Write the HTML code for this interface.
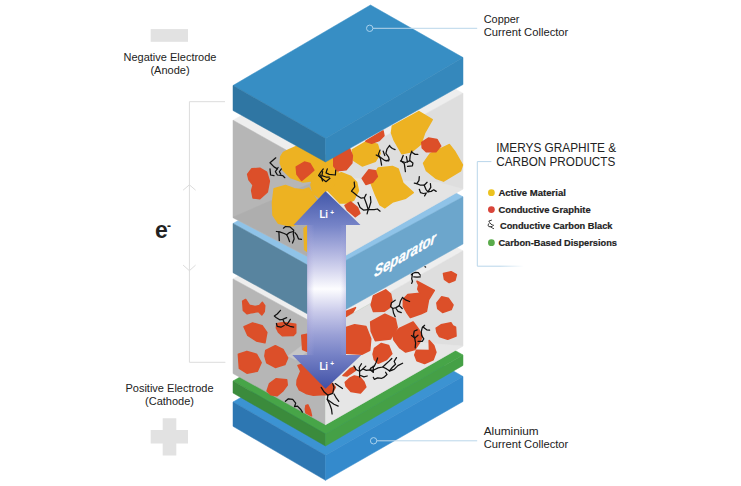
<!DOCTYPE html>
<html><head><meta charset="utf-8"><title>Li-ion battery diagram</title>
<style>
html,body{margin:0;padding:0;background:#fff;}
body{width:741px;height:486px;overflow:hidden;position:relative;font-family:"Liberation Sans",sans-serif;}
svg{position:absolute;left:0;top:0;display:block}
text{font-family:"Liberation Sans",sans-serif;}
</style></head><body>
<svg width="741" height="486" viewBox="0 0 741 486">
<defs>
<linearGradient id="agv" gradientUnits="userSpaceOnUse" x1="0" y1="191" x2="0" y2="389">
<stop offset="0" stop-color="#4257a9"/>
<stop offset="0.172" stop-color="#7583c7"/>
<stop offset="0.293" stop-color="#a9aedd"/>
<stop offset="0.394" stop-color="#d3d4ee"/>
<stop offset="0.495" stop-color="#fdfdff"/>
<stop offset="0.611" stop-color="#c9caea"/>
<stop offset="0.727" stop-color="#9aa0d6"/>
<stop offset="0.828" stop-color="#7682c6"/>
<stop offset="1" stop-color="#4050a6"/>
</linearGradient>
<linearGradient id="agh" gradientUnits="userSpaceOnUse" x1="307.2" y1="0" x2="346" y2="0">
<stop offset="0" stop-color="#9a94d0" stop-opacity="0.4"/>
<stop offset="0.18" stop-color="#b0b0e0" stop-opacity="0"/>
<stop offset="0.85" stop-color="#b0b0e0" stop-opacity="0"/>
<stop offset="1" stop-color="#8f96d0" stop-opacity="0.3"/>
</linearGradient>
<linearGradient id="fade" gradientUnits="userSpaceOnUse" x1="500" y1="0" x2="524" y2="0">
<stop offset="0" stop-color="#b9d6ea"/><stop offset="1" stop-color="#b9d6ea" stop-opacity="0"/>
</linearGradient>
</defs>
<rect width="741" height="486" fill="#fff"/>
<rect x="150.7" y="29.1" width="37.3" height="12.7" fill="#e2e2e2"/>
<polygon points="162.7,418.3 176.3,418.3 176.3,430 188,430 188,443.5 176.3,443.5 176.3,455.6 162.7,455.6 162.7,443.5 150.7,443.5 150.7,430 162.7,430" fill="#e2e2e2"/>
<polyline points="225,101.7 189.4,101.7 189.4,362.3 225.4,362.3" fill="none" stroke="#dcdcdc" stroke-width="1"/>
<polyline points="183.1,190.2 189.4,184.8 195.6,190.2" fill="none" stroke="#dcdcdc" stroke-width="1"/>
<polyline points="183.1,265.1 189.4,270.7 195.6,265.1" fill="none" stroke="#dcdcdc" stroke-width="1"/>
<text x="170" y="60.7" font-size="11" text-anchor="middle" font-weight="normal" fill="#222" >Negative Electrode</text>
<text x="170" y="74.0" font-size="11" text-anchor="middle" font-weight="normal" fill="#222" >(Anode)</text>
<text x="169.5" y="392" font-size="11" text-anchor="middle" font-weight="normal" fill="#222" >Positive Electrode</text>
<text x="169.5" y="404.7" font-size="11" text-anchor="middle" font-weight="normal" fill="#222" >(Cathode)</text>
<text x="155" y="238" font-size="23" text-anchor="start" font-weight="bold" fill="#222" fill="#111">e</text>
<text x="167" y="230.3" font-size="12" text-anchor="start" font-weight="bold" fill="#222" >-</text>
<text x="483.7" y="22.7" font-size="11" text-anchor="start" font-weight="normal" fill="#222" textLength="35.8" lengthAdjust="spacingAndGlyphs">Copper</text>
<text x="483.7" y="35.6" font-size="11" text-anchor="start" font-weight="normal" fill="#222" textLength="84.6" lengthAdjust="spacingAndGlyphs">Current Collector</text>
<text x="483.7" y="435.1" font-size="11" text-anchor="start" font-weight="normal" fill="#222" textLength="55" lengthAdjust="spacingAndGlyphs">Aluminium</text>
<text x="483.7" y="447.6" font-size="11" text-anchor="start" font-weight="normal" fill="#222" textLength="84.6" lengthAdjust="spacingAndGlyphs">Current Collector</text>
<text x="496.2" y="151.9" font-size="12.2" text-anchor="start" font-weight="normal" fill="#222" textLength="120" lengthAdjust="spacingAndGlyphs">IMERYS GRAPHITE &amp;</text>
<text x="496.2" y="166.4" font-size="12.2" text-anchor="start" font-weight="normal" fill="#222" textLength="119.1" lengthAdjust="spacingAndGlyphs">CARBON PRODUCTS</text>
<text x="498.4" y="195.9" font-size="9.9" text-anchor="start" font-weight="bold" fill="#222" stroke="#222" stroke-width="0.2" textLength="67.5" lengthAdjust="spacingAndGlyphs">Active Material</text>
<text x="498.4" y="212.8" font-size="9.9" text-anchor="start" font-weight="bold" fill="#222" stroke="#222" stroke-width="0.2" textLength="92.3" lengthAdjust="spacingAndGlyphs">Conductive Graphite</text>
<text x="500.0" y="228.7" font-size="9.9" text-anchor="start" font-weight="bold" fill="#222" stroke="#222" stroke-width="0.2" textLength="112.5" lengthAdjust="spacingAndGlyphs">Conductive Carbon Black</text>
<text x="498.4" y="245.7" font-size="9.9" text-anchor="start" font-weight="bold" fill="#222" stroke="#222" stroke-width="0.2" textLength="118.6" lengthAdjust="spacingAndGlyphs">Carbon-Based Dispersions</text>
<circle cx="491.4" cy="192.7" r="3.4" fill="#ecc21f"/>
<circle cx="491.4" cy="209.6" r="3.4" fill="#d9453a"/>
<circle cx="491.4" cy="242.7" r="3.4" fill="#5aab4b"/>
<polyline points="491.4,161.6 477.3,161.6 477.3,266.2 500,266.2" fill="none" stroke="#b9d6ea" stroke-width="1"/>
<line x1="500" y1="266.2" x2="524" y2="266.2" stroke="url(#fade)" stroke-width="1"/>
<g fill="none" stroke="#222" stroke-width="0.9" stroke-linecap="round" stroke-linejoin="round"><polyline points="491.5,220.2 488.8,221 489.7,222.6 490.9,224.1 492.3,224.9 493.6,225.3"/><polyline points="488.8,223.7 488,225.1 488.8,226.6 490.7,226.8 492.3,226.3"/><polyline points="490.7,226.8 492.3,228 493.6,228.6"/></g>
<polygon points="233.0,402.0 325.5,455.3 325.5,455.3 463.0,376.5 370.5,323.2" fill="#3c93d2" stroke="#3c93d2" stroke-width="0.5" stroke-linejoin="round" />
<polygon points="233.0,402.0 325.5,455.3 325.5,480.3 233.0,426.3" fill="#2d77b2" stroke="#2d77b2" stroke-width="0.5" stroke-linejoin="round" />
<polygon points="325.5,455.3 463.0,376.5 463.0,401.5 325.5,480.3" fill="#348acc" stroke="#348acc" stroke-width="0.5" stroke-linejoin="round" />
<polygon points="233.0,381.0 325.5,434.0 325.5,434.0 463.0,355.0 370.5,302.0" fill="#47a548" stroke="#47a548" stroke-width="0.5" stroke-linejoin="round" />
<polygon points="233.0,381.0 325.5,434.0 325.5,446.0 233.0,393.0" fill="#3b8b3c" stroke="#3b8b3c" stroke-width="0.5" stroke-linejoin="round" />
<polygon points="325.5,434.0 463.0,355.0 463.0,365.4 325.5,446.0" fill="#45a046" stroke="#45a046" stroke-width="0.5" stroke-linejoin="round" />
<polygon points="233.0,278.9 325.5,329.5 325.5,328.9 463.0,250.8 370.5,200.5" fill="#eeeeee" stroke="#eeeeee" stroke-width="0.5" stroke-linejoin="round" />
<polygon points="233.0,278.9 325.5,329.5 325.5,424.7 233.0,373.5" fill="#b6b6b6" stroke="#b6b6b6" stroke-width="0.5" stroke-linejoin="round" />
<polygon points="325.5,328.9 463.0,250.8 463.0,346.0 325.5,424.7" fill="#dedede" stroke="#dedede" stroke-width="0.5" stroke-linejoin="round" />
<polygon points="288.0,356.0 304.0,344.0 307.0,352.0 296.0,360.0" fill="#cdcdcd" stroke="#cdcdcd" stroke-width="0.5" stroke-linejoin="round" opacity="0.7"/>
<polygon points="325.5,335.0 463.0,346.0 325.5,424.7" fill="#ececec" stroke="#ececec" stroke-width="0.5" stroke-linejoin="round" opacity="0.6"/>
<polygon points="242.7,301.3 245.6,299.5 249.5,305.4 255.1,306.6 259.7,305.4 262.4,302.4 264.7,305.8 264.2,311.5 261.9,314.9 258.5,311.5 251.8,312.6 247.2,313.8 243.4,310.4" fill="#dc4f29" stroke="#dc4f29" stroke-width="1.6" stroke-linejoin="round"/>
<polygon points="244.1,326.8 252.6,323.0 262.1,325.8 266.8,332.4 264.9,342.8 256.4,340.9 247.9,335.3" fill="#dc4f29" stroke="#dc4f29" stroke-width="1.6" stroke-linejoin="round"/>
<polygon points="276.8,323.9 283.4,322.6 295.7,324.3 295.7,332.9 293.3,335.4 282.6,335.8 278.5,332.1 276.4,328.0" fill="#dc4f29" stroke="#dc4f29" stroke-width="1.6" stroke-linejoin="round"/>
<polygon points="238.4,354.2 246.9,351.4 256.4,354.2 261.1,362.7 257.3,371.2 246.9,373.1 239.4,368.4" fill="#dc4f29" stroke="#dc4f29" stroke-width="1.6" stroke-linejoin="round"/>
<polygon points="265.8,350.4 275.3,345.7 282.9,349.5 287.6,358.0 284.8,364.6 275.3,367.4 266.8,362.7 264.9,356.1" fill="#dc4f29" stroke="#dc4f29" stroke-width="1.6" stroke-linejoin="round"/>
<polygon points="267.1,390.9 269.6,383.6 276.0,378.8 286.6,379.7 287.2,385.0 282.9,390.9 276.9,395.8 270.8,394.6" fill="#dc4f29" stroke="#dc4f29" stroke-width="1.6" stroke-linejoin="round"/>
<polygon points="298.0,365.5 300.8,371.2 297.2,380.0 296.9,384.9 299.3,389.7 306.0,393.4 313.3,395.2 321.2,394.6 327.9,394.6 332.7,392.1 335.2,387.3 333.9,385.4 320.0,370.0 310.0,362.0" fill="#dc4f29" stroke="#dc4f29" stroke-width="1.6" stroke-linejoin="round"/>
<polygon points="306.0,405.5 307.8,404.9 310.3,410.4 311.5,415.8 306.0,412.8 305.4,409.2" fill="#dc4f29" stroke="#dc4f29" stroke-width="1.6" stroke-linejoin="round"/>
<polygon points="345.3,382.3 349.7,378.3 354.4,376.0 360.1,377.4 363.9,382.1 365.8,387.0 360.4,393.0 351.0,391.5 346.1,386.0" fill="#dc4f29" stroke="#dc4f29" stroke-width="1.6" stroke-linejoin="round"/>
<polygon points="301.8,335.3 307.1,334.3 307.1,351.3 302.7,349.5" fill="#dc4f29" stroke="#dc4f29" stroke-width="1.6" stroke-linejoin="round"/>
<polygon points="443.5,273.6 451.1,271.8 456.4,274.6 454.9,280.3 449.2,282.5 444.5,279.3" fill="#dc4f29" stroke="#dc4f29" stroke-width="1.6" stroke-linejoin="round"/>
<polygon points="417.0,281.3 434.3,290.4 428.5,299.8 426.4,311.3 421.1,313.8 410.4,317.5 406.7,312.2 403.4,306.4 403.4,299.4 407.9,294.5 419.9,293.2 417.8,289.1 418.7,285.0" fill="#dc4f29" stroke="#dc4f29" stroke-width="1.6" stroke-linejoin="round"/>
<polygon points="373.5,296.0 385.7,289.9 390.6,294.1 391.9,300.6 390.2,307.2 384.1,311.3 373.5,311.5 371.2,304.9" fill="#dc4f29" stroke="#dc4f29" stroke-width="1.6" stroke-linejoin="round"/>
<polygon points="436.9,303.0 441.6,296.9 448.2,298.2 453.0,304.9 451.1,309.6 442.6,312.4 437.8,308.6" fill="#dc4f29" stroke="#dc4f29" stroke-width="1.6" stroke-linejoin="round"/>
<polygon points="370.7,321.9 384.9,314.3 395.3,319.1 397.2,327.6 390.5,338.9 375.4,340.8 371.2,331.3" fill="#dc4f29" stroke="#dc4f29" stroke-width="1.6" stroke-linejoin="round"/>
<polygon points="393.0,334.0 399.9,328.2 413.1,322.0 418.9,329.8 422.2,336.4 419.7,342.2 414.8,349.6 405.7,352.0 399.9,347.9 394.0,340.0" fill="#dc4f29" stroke="#dc4f29" stroke-width="1.6" stroke-linejoin="round"/>
<polygon points="436.2,328.2 441.1,324.9 451.0,322.8 452.6,325.7 455.5,327.3 456.0,336.0 447.7,339.3 439.4,336.4 437.0,332.3" fill="#dc4f29" stroke="#dc4f29" stroke-width="1.6" stroke-linejoin="round"/>
<polygon points="346.1,327.6 354.6,324.7 365.9,326.6 370.7,338.9 369.7,350.3 362.2,354.1 346.1,353.1" fill="#dc4f29" stroke="#dc4f29" stroke-width="1.6" stroke-linejoin="round"/>
<polygon points="346.1,311.5 355.5,307.7 352.7,312.4 346.1,316.2" fill="#dc4f29" stroke="#dc4f29" stroke-width="1.6" stroke-linejoin="round"/>
<polygon points="374.5,348.4 381.1,343.6 388.6,345.5 391.8,353.8 386.6,359.4 378.1,363.2 374.3,359.4 373.1,354.1" fill="#dc4f29" stroke="#dc4f29" stroke-width="1.6" stroke-linejoin="round"/>
<polygon points="416.4,350.4 429.5,350.5 429.2,340.5 433.7,345.5 435.9,352.2 433.1,359.7 424.6,363.5 417.0,360.7 414.8,355.0" fill="#dc4f29" stroke="#dc4f29" stroke-width="1.6" stroke-linejoin="round"/>
<polygon points="343.0,375.5 350.7,368.4 354.4,367.0 355.4,370.3 350.7,373.6 346.9,376.0" fill="#dc4f29" stroke="#dc4f29" stroke-width="1.6" stroke-linejoin="round"/>
<polyline points="280.5,310.3 277.2,314.0 274.3,316.0 276.4,317.7 279.7,319.8 282.6,319.3 286.7,317.7" fill="none" stroke="#111" stroke-width="1.25" stroke-linecap="round" stroke-linejoin="round"/>
<polyline points="283.0,319.8 284.2,322.6 286.3,324.7" fill="none" stroke="#111" stroke-width="1.25" stroke-linecap="round" stroke-linejoin="round"/>
<polyline points="290.4,319.3 288.3,322.6 286.3,324.7 290.0,326.3 293.7,327.2" fill="none" stroke="#111" stroke-width="1.25" stroke-linecap="round" stroke-linejoin="round"/>
<polyline points="276.4,323.5 277.2,326.3 280.9,327.2 284.2,325.5" fill="none" stroke="#111" stroke-width="1.25" stroke-linecap="round" stroke-linejoin="round"/>
<polyline points="411.3,274.8 412.5,273.5 415.4,272.3 418.3,272.7 420.3,275.2" fill="none" stroke="#111" stroke-width="1.25" stroke-linecap="round" stroke-linejoin="round"/>
<polyline points="412.5,273.9 411.7,278.9 412.5,281.3 411.7,283.4" fill="none" stroke="#111" stroke-width="1.25" stroke-linecap="round" stroke-linejoin="round"/>
<polyline points="413.7,276.8 417.0,277.2 420.3,276.8" fill="none" stroke="#111" stroke-width="1.25" stroke-linecap="round" stroke-linejoin="round"/>
<polyline points="425.0,266.7 425.6,267.1" fill="none" stroke="#111" stroke-width="1.25" stroke-linecap="round" stroke-linejoin="round"/>
<polyline points="402.6,297.3 400.5,301.0 399.3,305.6 396.0,307.6 392.7,308.5 390.6,306.4 391.5,302.7 395.2,300.2" fill="none" stroke="#111" stroke-width="1.25" stroke-linecap="round" stroke-linejoin="round"/>
<polyline points="402.6,297.8 405.5,299.8 409.6,301.5" fill="none" stroke="#111" stroke-width="1.25" stroke-linecap="round" stroke-linejoin="round"/>
<polyline points="392.7,308.5 393.5,313.0 395.2,316.7" fill="none" stroke="#111" stroke-width="1.25" stroke-linecap="round" stroke-linejoin="round"/>
<polyline points="396.0,308.5 398.0,311.3 401.3,312.6" fill="none" stroke="#111" stroke-width="1.25" stroke-linecap="round" stroke-linejoin="round"/>
<polyline points="399.3,305.6 402.2,308.5" fill="none" stroke="#111" stroke-width="1.25" stroke-linecap="round" stroke-linejoin="round"/>
<polyline points="424.6,325.3 422.2,327.8 421.3,331.5 421.7,335.6 423.8,338.9 422.2,341.3 418.0,341.3" fill="none" stroke="#111" stroke-width="1.25" stroke-linecap="round" stroke-linejoin="round"/>
<polyline points="423.0,326.9 426.7,329.8 429.6,330.2" fill="none" stroke="#111" stroke-width="1.25" stroke-linecap="round" stroke-linejoin="round"/>
<polyline points="417.2,329.8 414.3,331.0 413.5,334.8 414.8,338.9 415.6,343.0 415.2,347.9" fill="none" stroke="#111" stroke-width="1.25" stroke-linecap="round" stroke-linejoin="round"/>
<polyline points="411.5,335.6 414.8,338.0 418.0,335.2" fill="none" stroke="#111" stroke-width="1.25" stroke-linecap="round" stroke-linejoin="round"/>
<polyline points="354.0,366.1 356.3,369.8 359.6,371.3 362.9,368.9 365.8,366.1" fill="none" stroke="#111" stroke-width="1.25" stroke-linecap="round" stroke-linejoin="round"/>
<polyline points="361.5,363.7 359.2,367.5 359.6,371.3 359.6,376.9" fill="none" stroke="#111" stroke-width="1.25" stroke-linecap="round" stroke-linejoin="round"/>
<polyline points="360.6,375.5 363.9,376.9 367.2,376.0" fill="none" stroke="#111" stroke-width="1.25" stroke-linecap="round" stroke-linejoin="round"/>
<polyline points="362.9,368.9 366.3,370.3 370.0,369.8 373.3,370.3" fill="none" stroke="#111" stroke-width="1.25" stroke-linecap="round" stroke-linejoin="round"/>
<polyline points="377.6,358.0 376.2,362.3 374.3,366.1 370.5,368.4 370.0,369.8 373.3,372.2" fill="none" stroke="#111" stroke-width="1.25" stroke-linecap="round" stroke-linejoin="round"/>
<polyline points="373.3,366.1 373.3,370.3 373.3,372.2" fill="none" stroke="#111" stroke-width="1.25" stroke-linecap="round" stroke-linejoin="round"/>
<polyline points="373.3,370.3 378.1,367.9 382.8,367.0 385.6,364.2 389.4,360.9 391.8,358.5" fill="none" stroke="#111" stroke-width="1.25" stroke-linecap="round" stroke-linejoin="round"/>
<polyline points="382.8,367.0 386.6,368.9 389.4,370.8 391.8,370.3" fill="none" stroke="#111" stroke-width="1.25" stroke-linecap="round" stroke-linejoin="round"/>
<polyline points="396.5,357.6 394.1,361.3 395.5,364.2 392.2,367.5 389.4,370.8" fill="none" stroke="#111" stroke-width="1.25" stroke-linecap="round" stroke-linejoin="round"/>
<polyline points="389.4,370.8 394.1,369.4 397.9,365.6 402.6,363.2" fill="none" stroke="#111" stroke-width="1.25" stroke-linecap="round" stroke-linejoin="round"/>
<polyline points="385.6,372.2 387.0,374.6 383.7,377.4 381.8,378.3 377.6,377.9 374.3,379.3 373.3,377.4" fill="none" stroke="#111" stroke-width="1.25" stroke-linecap="round" stroke-linejoin="round"/>
<polyline points="285.4,401.3 288.4,398.8 292.7,399.4 295.7,403.1 294.5,406.7 297.5,406.1 300.5,409.2 302.4,412.2" fill="none" stroke="#111" stroke-width="1.25" stroke-linecap="round" stroke-linejoin="round"/>
<polyline points="321.2,387.3 324.2,392.1 327.9,395.2 332.7,393.4 334.0,387.3 332.7,383.6" fill="none" stroke="#111" stroke-width="1.25" stroke-linecap="round" stroke-linejoin="round"/>
<polyline points="327.9,395.2 327.3,399.4 329.7,404.3 331.5,409.2 332.1,414.0" fill="none" stroke="#111" stroke-width="1.25" stroke-linecap="round" stroke-linejoin="round"/>
<polyline points="327.3,399.4 334.0,404.3 338.2,406.1" fill="none" stroke="#111" stroke-width="1.25" stroke-linecap="round" stroke-linejoin="round"/>
<polyline points="334.0,394.0 336.4,398.2 338.8,401.3" fill="none" stroke="#111" stroke-width="1.25" stroke-linecap="round" stroke-linejoin="round"/>
<polyline points="335.2,383.6 338.8,386.1 342.5,388.5" fill="none" stroke="#111" stroke-width="1.25" stroke-linecap="round" stroke-linejoin="round"/>
<polygon points="233.0,223.4 325.5,275.0 325.5,271.5 463.0,196.8 370.5,147.0" fill="#8fc3e8" stroke="#8fc3e8" stroke-width="0.5" stroke-linejoin="round" />
<polygon points="233.0,223.4 325.5,275.0 325.5,323.9 233.0,272.7" fill="#58849f" stroke="#58849f" stroke-width="0.5" stroke-linejoin="round" />
<polygon points="325.5,271.5 463.0,196.8 463.0,244.0 325.5,320.8" fill="#6ca6cc" stroke="#6ca6cc" stroke-width="0.5" stroke-linejoin="round" />
<text transform="translate(374.0,277.6) skewY(-29.4) scale(1,1.2) skewX(-5)" font-size="13" font-weight="bold" font-style="italic" fill="#fff" stroke="#fff" stroke-width="0.25" textLength="61.5" lengthAdjust="spacingAndGlyphs">Separator</text>
<polygon points="233.0,120.2 325.5,172.0 325.5,169.0 463.0,93.2 370.5,42.9" fill="#eeeeee" stroke="#eeeeee" stroke-width="0.5" stroke-linejoin="round" />
<polygon points="233.0,120.2 325.5,172.0 325.5,266.0 233.0,217.8" fill="#b6b6b6" stroke="#b6b6b6" stroke-width="0.5" stroke-linejoin="round" />
<polygon points="325.5,169.0 463.0,93.2 463.0,189.0 325.5,266.7" fill="#dedede" stroke="#dedede" stroke-width="0.5" stroke-linejoin="round" />
<polygon points="233.0,217.2 325.5,177.0 325.5,265.3" fill="#a9a9a9" stroke="#a9a9a9" stroke-width="0.5" stroke-linejoin="round" opacity="0.55"/>
<polygon points="325.5,177.0 439.0,182.5 463.0,189.0 325.5,266.7" fill="#e9e9e9" stroke="#e9e9e9" stroke-width="0.5" stroke-linejoin="round" opacity="0.6"/>
<polygon points="280.8,156.7 283.5,152.5 288.5,150.0 297.5,146.0 330.0,160.0 335.0,172.0 335.5,176.0 328.0,182.0 318.0,180.0 303.0,182.0 290.5,177.5 283.0,170.0 280.3,163.0" fill="#edb222" stroke="#edb222" stroke-width="1.6" stroke-linejoin="round"/>
<polygon points="274.2,188.7 285.5,185.5 294.2,188.7 303.0,190.0 308.7,188.0 313.7,195.4 318.5,204.0 316.0,212.0 302.3,220.0 293.3,225.7 289.2,225.7 278.5,223.2 273.0,215.0 272.5,202.5" fill="#edb222" stroke="#edb222" stroke-width="1.6" stroke-linejoin="round"/>
<polygon points="303.6,228.0 307.3,225.5 307.3,252.0 304.2,250.0" fill="#edb222" stroke="#edb222" stroke-width="0.5" stroke-linejoin="round" />
<polygon points="325.5,188.0 330.0,176.5 341.4,172.7 350.8,176.5 356.5,182.2 358.4,190.7 353.6,200.1 348.0,203.0 340.0,203.0" fill="#edb222" stroke="#edb222" stroke-width="1.6" stroke-linejoin="round"/>
<polygon points="352.3,149.9 365.9,141.9 377.3,144.2 380.1,153.6 375.4,161.2 362.2,165.9 353.6,160.3" fill="#edb222" stroke="#edb222" stroke-width="1.6" stroke-linejoin="round"/>
<polygon points="392.4,126.2 418.9,111.6 432.2,119.6 424.6,132.8 420.8,144.2 411.3,151.8 401.9,153.6 394.3,140.4 391.5,132.8" fill="#edb222" stroke="#edb222" stroke-width="1.6" stroke-linejoin="round"/>
<polygon points="423.6,163.1 430.3,153.6 449.2,144.6 454.9,151.8 462.4,165.0 460.5,170.7 443.5,181.1 435.9,178.2 426.5,170.7" fill="#edb222" stroke="#edb222" stroke-width="1.6" stroke-linejoin="round"/>
<polygon points="370.7,182.2 378.2,168.0 392.4,166.6 398.1,168.9 402.8,183.1 413.2,192.6 405.7,198.2 392.4,202.0 384.9,207.7 380.1,204.9 375.4,194.5" fill="#edb222" stroke="#edb222" stroke-width="1.6" stroke-linejoin="round"/>
<polygon points="318.0,156.0 338.0,154.0 338.0,178.0 331.0,189.0 325.5,191.0 319.0,197.5 313.0,193.0 311.0,185.0" fill="#edb222" stroke="#edb222" stroke-width="1.6" stroke-linejoin="round"/>
<polygon points="247.7,174.3 251.7,168.9 259.8,168.2 266.6,172.3 269.3,181.0 267.3,191.8 259.8,198.6 253.1,197.9 251.7,190.5 253.1,185.1 249.0,179.7" fill="#dc4f29" stroke="#dc4f29" stroke-width="1.6" stroke-linejoin="round"/>
<polygon points="296.3,166.9 304.4,162.1 309.8,163.5 313.8,170.2 308.4,175.0 301.7,180.4 297.0,174.3" fill="#dc4f29" stroke="#dc4f29" stroke-width="1.6" stroke-linejoin="round"/>
<polygon points="333.8,158.0 348.9,147.0 352.3,155.5 351.8,163.1 346.1,169.7 337.6,170.7 333.8,165.9" fill="#dc4f29" stroke="#dc4f29" stroke-width="1.6" stroke-linejoin="round"/>
<polygon points="365.9,141.3 383.0,130.9 383.9,135.7 379.2,140.4 371.6,143.2" fill="#dc4f29" stroke="#dc4f29" stroke-width="1.6" stroke-linejoin="round"/>
<polygon points="421.8,142.3 428.4,138.1 436.9,139.5 440.7,146.1 435.9,151.8 426.5,151.8 422.3,148.0" fill="#dc4f29" stroke="#dc4f29" stroke-width="1.6" stroke-linejoin="round"/>
<polygon points="362.2,178.4 368.8,169.9 375.4,170.8 377.3,176.5 372.6,182.2 365.9,184.4" fill="#dc4f29" stroke="#dc4f29" stroke-width="1.6" stroke-linejoin="round"/>
<polygon points="345.0,205.4 350.8,202.0 357.6,207.7 359.8,213.3 355.3,216.7 347.4,210.0" fill="#dc4f29" stroke="#dc4f29" stroke-width="1.6" stroke-linejoin="round"/>
<polyline points="354.2,182.0 354.7,186.9 351.5,191.2 353.1,192.3 356.9,195.5 361.2,198.2 364.4,197.7 366.1,194.4" fill="none" stroke="#111" stroke-width="1.25" stroke-linecap="round" stroke-linejoin="round"/>
<polyline points="364.4,198.2 366.6,204.2 368.2,209.6 367.1,213.9" fill="none" stroke="#111" stroke-width="1.25" stroke-linecap="round" stroke-linejoin="round"/>
<polyline points="370.4,196.6 370.9,202.0 369.3,207.4 368.2,209.6" fill="none" stroke="#111" stroke-width="1.25" stroke-linecap="round" stroke-linejoin="round"/>
<polyline points="358.0,202.5 360.1,207.4 363.4,210.1 368.2,209.6 374.2,209.6 377.4,209.0 380.1,211.2" fill="none" stroke="#111" stroke-width="1.25" stroke-linecap="round" stroke-linejoin="round"/>
<polyline points="275.8,157.8 270.0,162.8 274.0,166.9 277.4,168.9" fill="none" stroke="#111" stroke-width="1.25" stroke-linecap="round" stroke-linejoin="round"/>
<polyline points="270.0,168.9 270.6,175.0 274.0,175.6" fill="none" stroke="#111" stroke-width="1.25" stroke-linecap="round" stroke-linejoin="round"/>
<polyline points="278.1,167.5 275.4,171.6 277.4,175.0 282.8,175.6 284.8,177.7" fill="none" stroke="#111" stroke-width="1.25" stroke-linecap="round" stroke-linejoin="round"/>
<polyline points="281.4,168.9 279.4,171.6 280.8,174.3" fill="none" stroke="#111" stroke-width="1.25" stroke-linecap="round" stroke-linejoin="round"/>
<polyline points="323.3,168.9 320.6,172.3 318.6,175.6 322.6,179.0 326.0,181.7 330.0,178.3" fill="none" stroke="#111" stroke-width="1.25" stroke-linecap="round" stroke-linejoin="round"/>
<polyline points="327.3,168.9 326.0,172.9 329.3,174.3 335.4,175.0 335.7,170.2" fill="none" stroke="#111" stroke-width="1.25" stroke-linecap="round" stroke-linejoin="round"/>
<polyline points="322.6,171.6 321.9,175.6 326.0,177.0 329.3,177.0" fill="none" stroke="#111" stroke-width="1.25" stroke-linecap="round" stroke-linejoin="round"/>
<polyline points="320.6,175.0 322.6,181.0" fill="none" stroke="#111" stroke-width="1.25" stroke-linecap="round" stroke-linejoin="round"/>
<polyline points="389.7,145.3 387.0,149.0 385.9,153.4 388.6,157.1 389.2,159.8 385.9,160.9" fill="none" stroke="#111" stroke-width="1.25" stroke-linecap="round" stroke-linejoin="round"/>
<polyline points="389.7,146.3 392.4,148.5 395.1,149.6" fill="none" stroke="#111" stroke-width="1.25" stroke-linecap="round" stroke-linejoin="round"/>
<polyline points="380.0,150.1 378.4,154.4 380.5,158.8 381.6,165.2" fill="none" stroke="#111" stroke-width="1.25" stroke-linecap="round" stroke-linejoin="round"/>
<polyline points="376.2,155.0 380.0,157.1 384.8,160.4 388.6,160.9" fill="none" stroke="#111" stroke-width="1.25" stroke-linecap="round" stroke-linejoin="round"/>
<polyline points="383.2,151.2 384.8,155.5" fill="none" stroke="#111" stroke-width="1.25" stroke-linecap="round" stroke-linejoin="round"/>
<polyline points="411.8,151.2 410.2,155.5 409.7,160.4 412.9,163.1 412.4,165.8 407.5,166.3" fill="none" stroke="#111" stroke-width="1.25" stroke-linecap="round" stroke-linejoin="round"/>
<polyline points="411.8,152.3 415.1,154.4 417.8,154.4" fill="none" stroke="#111" stroke-width="1.25" stroke-linecap="round" stroke-linejoin="round"/>
<polyline points="403.2,155.5 401.0,160.9 404.3,163.6 405.4,171.7" fill="none" stroke="#111" stroke-width="1.25" stroke-linecap="round" stroke-linejoin="round"/>
<polyline points="400.5,160.9 405.4,162.5 409.7,160.9" fill="none" stroke="#111" stroke-width="1.25" stroke-linecap="round" stroke-linejoin="round"/>
<polyline points="406.4,156.6 407.5,162.0" fill="none" stroke="#111" stroke-width="1.25" stroke-linecap="round" stroke-linejoin="round"/>
<polyline points="419.3,176.6 418.9,180.7 416.8,183.6 414.3,183.2" fill="none" stroke="#111" stroke-width="1.25" stroke-linecap="round" stroke-linejoin="round"/>
<polyline points="416.8,183.6 420.5,185.2 424.2,185.2 427.1,182.3" fill="none" stroke="#111" stroke-width="1.25" stroke-linecap="round" stroke-linejoin="round"/>
<polyline points="424.2,185.2 425.9,189.3 427.9,191.8 431.2,191.4 433.7,189.8 436.2,191.4" fill="none" stroke="#111" stroke-width="1.25" stroke-linecap="round" stroke-linejoin="round"/>
<polyline points="430.4,183.6 430.8,187.3 427.9,191.8" fill="none" stroke="#111" stroke-width="1.25" stroke-linecap="round" stroke-linejoin="round"/>
<polyline points="419.3,189.3 420.5,192.6 423.4,193.5 426.3,193.0 424.6,195.9" fill="none" stroke="#111" stroke-width="1.25" stroke-linecap="round" stroke-linejoin="round"/>
<polyline points="283.4,228.2 285.5,226.5 290.0,226.9 293.7,230.2 293.3,233.9 294.1,238.9 292.5,243.0" fill="none" stroke="#111" stroke-width="1.25" stroke-linecap="round" stroke-linejoin="round"/>
<polyline points="276.4,231.5 279.7,231.9 284.2,233.5 286.7,234.8 289.2,232.7 293.3,231.5" fill="none" stroke="#111" stroke-width="1.25" stroke-linecap="round" stroke-linejoin="round"/>
<polyline points="278.9,231.9 279.3,240.5" fill="none" stroke="#111" stroke-width="1.25" stroke-linecap="round" stroke-linejoin="round"/>
<polyline points="286.7,234.8 288.3,238.0 289.6,241.7" fill="none" stroke="#111" stroke-width="1.25" stroke-linecap="round" stroke-linejoin="round"/>
<polyline points="294.9,232.7 297.0,235.2 298.6,238.9 301.5,239.3" fill="none" stroke="#111" stroke-width="1.25" stroke-linecap="round" stroke-linejoin="round"/>
<polygon points="233.0,85.5 325.5,138.5 325.5,138.5 463.0,57.5 370.5,5.0" fill="#378ec4" stroke="#378ec4" stroke-width="0.5" stroke-linejoin="round" />
<polygon points="233.0,85.5 325.5,138.5 325.5,162.0 233.0,110.5" fill="#2f76a3" stroke="#2f76a3" stroke-width="0.5" stroke-linejoin="round" />
<polygon points="325.5,138.5 463.0,57.5 463.0,84.5 325.5,162.0" fill="#3588bc" stroke="#3588bc" stroke-width="0.5" stroke-linejoin="round" />
<polygon points="325.5,191.2 360.5,225.0 346.0,225.0 346.0,355.1 361.4,355.1 325.5,388.8 292.3,355.1 307.2,355.1 307.2,225.0 293.5,225.0" fill="url(#agv)"/>
<rect x="307.2" y="225" width="38.8" height="130.1" fill="url(#agh)"/>
<text x="319.4" y="217.9" font-size="10.4" font-weight="bold" fill="#fff" textLength="8.6" lengthAdjust="spacingAndGlyphs">Li</text>
<text x="330.2" y="214.6" font-size="6.5" font-weight="bold" fill="#fff">+</text>
<text x="319.4" y="369.5" font-size="10.4" font-weight="bold" fill="#fff" textLength="8.6" lengthAdjust="spacingAndGlyphs">Li</text>
<text x="330.2" y="366.2" font-size="6.5" font-weight="bold" fill="#fff">+</text>
<line x1="373" y1="28.3" x2="477.2" y2="28.3" stroke="#b9d6ea" stroke-width="1"/>
<circle cx="369.7" cy="28.3" r="3.2" fill="none" stroke="#a9d2ee" stroke-width="1"/>
<line x1="377" y1="440.8" x2="477.2" y2="440.8" stroke="#b9d6ea" stroke-width="1"/>
<circle cx="373.6" cy="440.8" r="3.2" fill="none" stroke="#a9d2ee" stroke-width="1"/>
</svg>
</body></html>
